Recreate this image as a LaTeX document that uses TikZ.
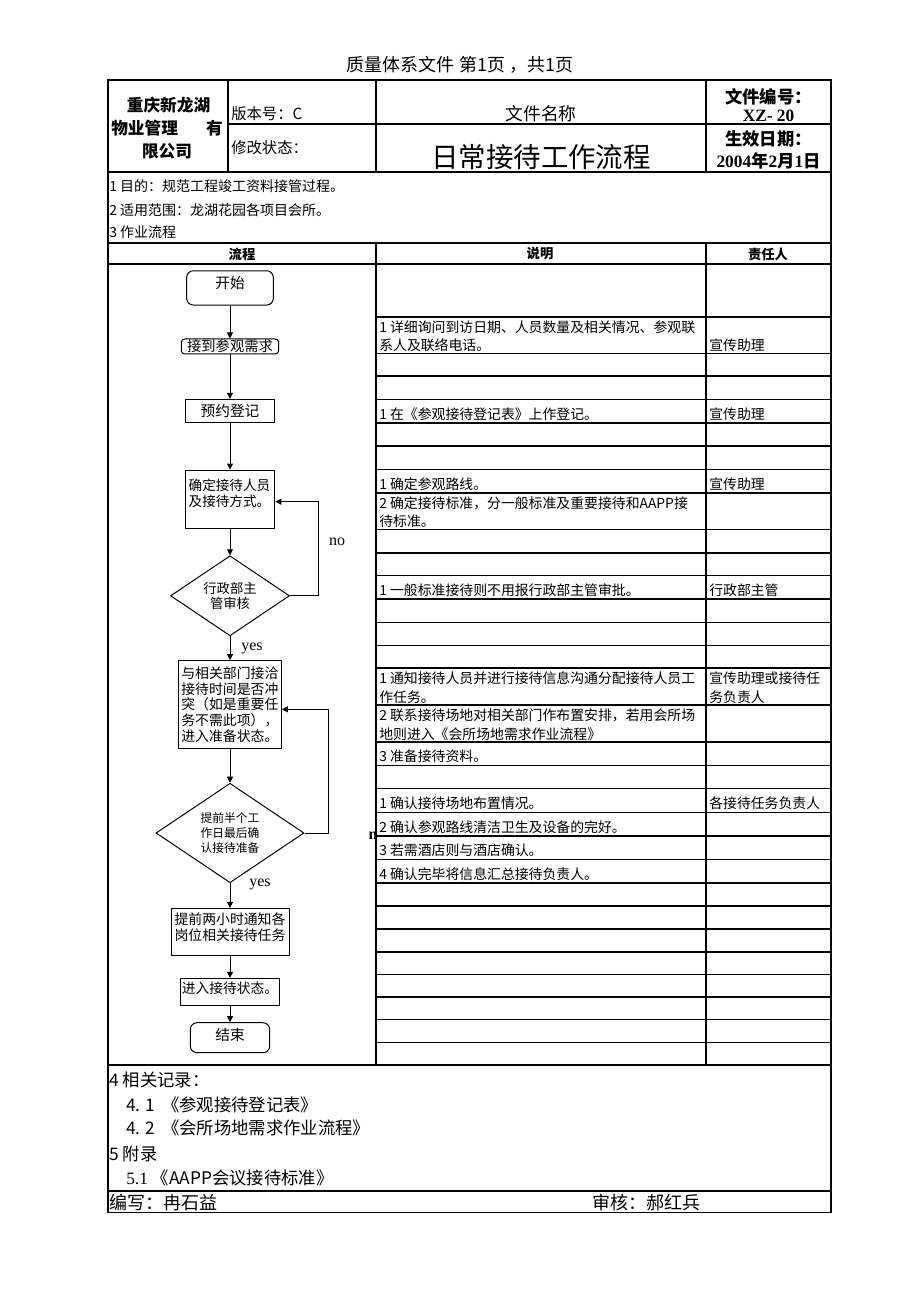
\documentclass[tikz,border=0pt]{standalone}
\usepackage{fontspec}
\setmainfont{Noto Sans CJK SC}
\newfontfamily\serifen{Liberation Serif}
\usetikzlibrary{arrows.meta,shapes.geometric}

\tikzset{
  tableline/.style={line width=1.1pt},
  flowline/.style={line width=0.75pt,-{Triangle[length=4.5pt,width=4.5pt]}},
  procbox/.style={draw,line width=0.75pt},
  termbox/.style={procbox,rounded corners=5pt},
  decision/.style={diamond,draw,line width=0.75pt,align=center},
  desc/.style={anchor=west,align=left,font=\fontsize{10.4}{14}\selectfont},
  plain/.style={anchor=west,font=\fontsize{10.5}{13}\selectfont},
  colhead/.style={font=\bfseries\fontsize{10}{12}\selectfont},
  headbold/.style={font=\bfseries\fontsize{12.5}{15}\selectfont},
  headright/.style={font=\bfseries\fontsize{13}{15}\selectfont},
  lbl/.style={font=\serifen\fontsize{12}{14}\selectfont},
  foot/.style={anchor=west,font=\fontsize{13}{15}\selectfont},
  sign/.style={anchor=west,font=\fontsize{13.5}{16}\selectfont}
}

\begin{document}
\begin{tikzpicture}
  [x=0.75pt,y=-0.75pt,every node/.style={inner sep=0pt}]
  \useasboundingbox (0,0) rectangle (920,1301);

  % frame and grid
  \draw[tableline] (108,80) rectangle (831,1212.5);
  \draw[tableline] (228,80) -- (228,172);
  \draw[tableline] (376,80) -- (376,172);
  \draw[tableline] (706,80) -- (706,172);
  \draw[tableline] (228,124) -- (831,124);
  \foreach \y in {172,243,264,1065,1191}
    \draw[tableline] (108,\y) -- (831,\y);
  \draw[tableline] (376,243) -- (376,1065);
  \draw[tableline] (706,243) -- (706,1065);
  \foreach \y in {317,353.5,376,399.5,423,446,469.5,493,529.5,553,575.5,599,622.5,645.5,668,705,742,765.5,788.5,812.5,836,859.5,883,906,929,952,974.5,997,1019.5,1042.5}
    \draw[tableline] (376,\y) -- (831,\y);

  % header
  \node (title) [font=\fontsize{13.5}{16}\selectfont] at (460,65) {质量体系文件 第1页 ，共1页};
  \node (comp1) [headbold] at (168.5,105) {重庆新龙湖};
  \node (comp2) [headbold,anchor=west] at (111,128) {物业管理};
  \node (comp2b) [headbold,anchor=east] at (223,128) {有};
  \node (comp3) [headbold] at (167,151) {限公司};
  \node (version) [anchor=west,font=\fontsize{11.5}{14}\selectfont] at (231,114) {版本号：C};
  \node (status) [anchor=west,font=\fontsize{11.5}{14}\selectfont] at (231,148) {修改状态：};
  \node (docname) [font=\fontsize{13.3}{16}\selectfont] at (541,114) {文件名称};
  \node (doctitle) [font=\fontsize{20.6}{24}\selectfont] at (541,157) {日常接待工作流程};
  \node (docno) [headright] at (768.5,97) {文件编号：};
  \node (docnoval) [headright] at (768.5,116) {{\serifen XZ- 20}};
  \node (date) [headright] at (768.5,139) {生效日期：};
  \node (dateval) [headright] at (768.5,161) {{\serifen 2004}年{\serifen 2}月{\serifen 1}日};

  \node (purpose) [plain] at (109,186) {1 目的：规范工程竣工资料接管过程。};
  \node (scope) [plain] at (109,210.5) {2 适用范围：龙湖花园各项目会所。};
  \node (steps) [plain] at (109,232.5) {3 作业流程};
  \node (colflow) [colhead] at (242,254) {流程};
  \node (coldesc) [colhead] at (540,254) {说明};
  \node (colresp) [colhead] at (768,254) {责任人};

  % flow chart
  \node (start) [termbox,minimum width=65pt,minimum height=25.7pt,text height=13.4pt,text depth=12.3pt,font=\fontsize{11}{13}\selectfont] at (230,287.9) {开始};
  \node (recv) [termbox,rounded corners=2.5pt,minimum width=73pt,minimum height=11.25pt,font=\fontsize{10.7}{12}\selectfont] at (230,346.5) {接到参观需求};
  \node (book) [procbox,minimum width=67.3pt,minimum height=17.5pt,font=\fontsize{11}{13}\selectfont] at (230,411) {预约登记};
  \node (staff) [procbox,minimum width=67.3pt,minimum height=43.7pt,font=\fontsize{10.2}{12.5}\selectfont] at (230,499.2)
    {\parbox[c][43.7pt][t]{62pt}{\vspace*{6.4pt}确定接待人员\\及接待方式。}};
  \node (review) [decision,minimum width=89.25pt,minimum height=60pt,font=\fontsize{10}{10.8}\selectfont] at (230,595.8) {行政部主\\管审核};
  \node (arrange) [procbox,text width=73pt,align=left,inner xsep=2pt,minimum height=65.7pt,font=\fontsize{10.4}{11.7}\selectfont] at (230,704.5)
    {与相关部门接洽\\接待时间是否冲\\突（如是重要任\\务不需此项），\\进入准备状态。};
  \node (confirm) [decision,minimum width=111pt,minimum height=74.6pt,font=\fontsize{8.8}{11.25}\selectfont] at (230,833) {提前半个工\\作日最后确\\认接待准备};
  \node (notify) [procbox,minimum width=88.5pt,minimum height=35pt,font=\fontsize{10.4}{11.8}\selectfont] at (230,931.7)
    {\parbox[c][35pt][t]{85pt}{\vspace*{3.4pt}\centering 提前两小时通知各\\岗位相关接待任务}};
  \node (enter) [procbox,minimum width=74.4pt,minimum height=20pt,text height=11.4pt,text depth=8.6pt,font=\fontsize{10.3}{12}\selectfont] at (230,991.7) {进入接待状态。};
  \node (finish) [termbox,minimum width=59.5pt,minimum height=22.5pt,text height=13.4pt,text depth=9.1pt,font=\fontsize{11}{13}\selectfont] at (230,1037.7) {结束};

  \foreach \from/\to in {start/recv,recv/book,book/staff,staff/review,review/arrange,arrange/confirm,confirm/notify,notify/enter,enter/finish}
    \draw[flowline] (\from.south) -- (\to.north);

  \coordinate (noback) at (318,501.7);
  \coordinate (retry) at (328,709.3);
  \draw[flowline] (review.east) -| (noback) -- (noback -| staff.east);
  \draw[flowline] (confirm.east) -| (retry) -- (retry -| arrange.east);

  \node (no) [lbl] at (337,542) {no};
  \node (yes1) [lbl] at (252,648) {yes};
  \node (yes2) [lbl] at (260,884) {yes};
  \node (nclip) [font=\serifen\bfseries\fontsize{12}{13}\selectfont] at (373,835.5) {n};

  % description and responsibility
  \node (ask) [desc] at (379,336.3) {1 详细询问到访日期、人员数量及相关情况、参观联\\系人及联络电话。};
  \node (askby) [desc] at (709,345.5) {宣传助理};
  \node (register) [desc] at (379,414) {1 在《参观接待登记表》上作登记。};
  \node (registerby) [desc] at (709,414) {宣传助理};
  \node (route) [desc] at (379,484) {1 确定参观路线。};
  \node (routeby) [desc] at (709,484) {宣传助理};
  \node (level) [desc] at (379,512.3) {2 确定接待标准，分一般标准及重要接待和AAPP接\\待标准。};
  \node (approve) [desc] at (379,590) {1 一般标准接待则不用报行政部主管审批。};
  \node (approveby) [desc] at (709,590) {行政部主管};
  \node (inform) [desc] at (379,687.8) {1 通知接待人员并进行接待信息沟通分配接待人员工\\作任务。};
  \node (informby) [desc] at (709,687.8) {宣传助理或接待任\\务负责人};
  \node (venue) [desc] at (379,724.8) {2 联系接待场地对相关部门作布置安排，若用会所场\\地则进入《会所场地需求作业流程》};
  \node (material) [desc] at (379,756.5) {3 准备接待资料。};
  \node (check) [desc] at (379,803.5) {1 确认接待场地布置情况。};
  \node (checkby) [desc] at (709,803.5) {各接待任务负责人};
  \node (clean) [desc] at (379,827) {2 确认参观路线清洁卫生及设备的完好。};
  \node (hotel) [desc] at (379,850.5) {3 若需酒店则与酒店确认。};
  \node (report) [desc] at (379,874) {4 确认完毕将信息汇总接待负责人。};

  % records and signatures
  \node (records) [foot] at (109,1080) {4 相关记录：};
  \node (rec1) [foot] at (126,1104.5) {4. 1\hspace{5pt}《参观接待登记表》};
  \node (rec2) [foot] at (126,1128) {4. 2\hspace{5pt}《会所场地需求作业流程》};
  \node (annex) [foot] at (109,1153.5) {5 附录};
  \node (annex1) [foot] at (126,1178) {{\serifen 5.1}\hspace{3pt}《AAPP会议接待标准》};
  \node (writer) [sign] at (109,1202.5) {编写：冉石益};
  \node (checker) [sign] at (592,1202.5) {审核：郝红兵};
\end{tikzpicture}
\end{document}
